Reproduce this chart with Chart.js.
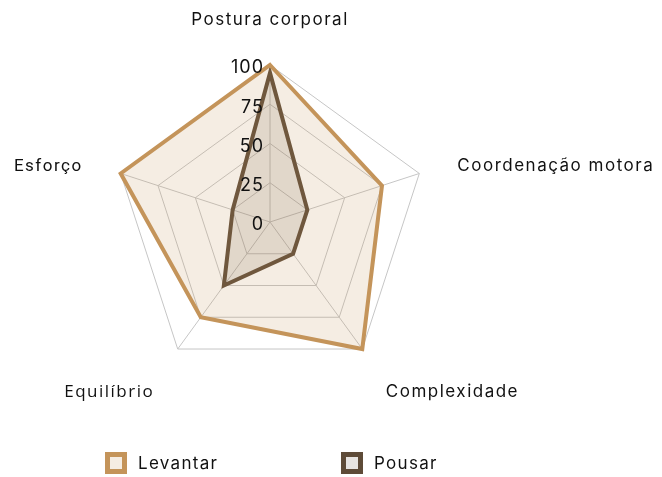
<!DOCTYPE html>
<html>
<head>
<meta charset="utf-8">
<script src="https://cdn.jsdelivr.net/npm/chart.js@4.4.1/dist/chart.umd.min.js"></script>
<style>
    body { margin: 0; background: #fff; }
    #holder { position: relative; width: 662px; height: 477px; }
    #legend { position: absolute; top: 452px; left: 0; width: 662px; height: 22px; }
    .item { position: absolute; top: 0; display: flex; align-items: center; font-family: Inter, sans-serif; font-size: 17px; letter-spacing: 1.3px; color: #111; }
    .box { width: 22px; height: 22px; box-sizing: border-box; border: 5px solid; margin-right: 11px; }
</style>
</head>
<body>
<div id="holder">
    <canvas id="myChart" width="662" height="477"></canvas>
    <div id="legend"></div>
</div>
<script>
// eixos do radar
const labels = ['Postura corporal', 'Coordenação motora', 'Complexidade', 'Equilíbrio', 'Esforço'];
const levantar = [100, 75, 100, 75, 100];
const pousar = [95, 25, 25, 50, 25];
const tickValues = [0, 25, 50, 75, 100];

const seriesNames = ['Levantar', 'Pousar'];
const borderColors = ['#c4945a', '#5e4b38'];
const fillColors = ['rgba(196, 148, 90, 0.17)', 'rgba(94, 75, 56, 0.15)'];

// fontes dos rótulos (alguns caem noutra fonte no original)
const labelFonts = ['Inter', 'Inter', 'Inter', 'Open Sans', 'Roboto'];

// números da escala, alinhados à esquerda do eixo vertical
const tickPlugin = {
    id: 'tickText',
    afterDraw(chart) {
        const scale = chart.scales.r;
        const c = chart.ctx;
        c.save();
        c.font = '18px Inter';
        c.letterSpacing = '1px';
        c.fillStyle = '#111';
        c.textAlign = 'right';
        c.textBaseline = 'middle';
        tickValues.forEach(v => {
            const d = scale.getDistanceFromCenterForValue(v);
            c.fillText(String(v), scale.xCenter - 6, scale.yCenter - d + 3);
        });
        c.restore();
    }
};

// nomes dos eixos, afastados do pentágono
const labelPlugin = {
    id: 'axisText',
    afterDraw(chart) {
        const scale = chart.scales.r;
        const c = chart.ctx;
        c.save();
        c.fillStyle = '#111';
        c.letterSpacing = '1.5px';
        c.textBaseline = 'alphabetic';
        labels.forEach((txt, i) => {
            const p = scale.getPointPosition(i, scale.drawingArea + 40);
            const dx = p.x - scale.xCenter;
            const dy = p.y - scale.yCenter;
            let align = 'center';
            if (dx > 1) align = 'left';
            else if (dx < -1) align = 'right';
            let off = 10;
            if (dy < -scale.drawingArea) off = 0;
            else if (dy > 0) off = 16;
            c.font = '17px "' + labelFonts[i] + '"';
            c.textAlign = align;
            c.fillText(txt, p.x, p.y + off);
        });
        c.restore();
    }
};

const ctx = document.getElementById('myChart').getContext('2d');
const myChart = new Chart(ctx, {
    type: 'radar',
    data: {
        labels: labels,
        datasets: [
            {
                label: seriesNames[0],
                data: levantar,
                borderColor: borderColors[0],
                backgroundColor: fillColors[0],
                borderWidth: 4,
                pointRadius: 0,
                fill: true
            },
            {
                label: seriesNames[1],
                data: pousar,
                borderColor: borderColors[1],
                backgroundColor: fillColors[1],
                borderWidth: 4,
                pointRadius: 0,
                fill: true
            }
        ]
    },
    options: {
        responsive: false,
        animation: false,
        layout: { padding: { top: 65, bottom: 98, left: 113, right: 235 } },
        plugins: {
            legend: { display: false },
            tooltip: { enabled: false }
        },
        scales: {
            r: {
                min: 0,
                max: 100,
                ticks: { display: false, stepSize: 25 },
                grid: { color: '#c6c6c6', lineWidth: 1 },
                angleLines: { color: '#c6c6c6', lineWidth: 1 },
                pointLabels: { display: false }
            }
        }
    },
    plugins: [tickPlugin, labelPlugin]
});

// legenda em html
const legendPos = [105, 341];
const legend = document.getElementById('legend');
seriesNames.forEach((name, i) => {
    const item = document.createElement('div');
    item.className = 'item';
    item.style.left = legendPos[i] + 'px';
    const box = document.createElement('div');
    box.className = 'box';
    box.style.borderColor = borderColors[i];
    box.style.background = fillColors[i];
    item.append(box);
    item.append(document.createTextNode(name));
    legend.append(item);
});
</script>
</body>
</html>
